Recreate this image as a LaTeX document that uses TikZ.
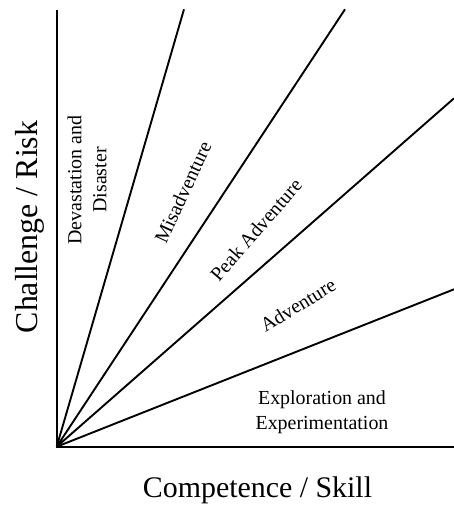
\documentclass[tikz,border=0pt]{standalone}
\usepackage{fontspec}
\setmainfont{Liberation Serif}
\begin{document}
\begin{tikzpicture}[x=1bp,y=-1bp,
  ray/.style={line width=1.9bp},
  axis/.style={line width=2.1bp},
  zone/.style={inner sep=0pt,align=center,font=\fontsize{20}{25}\selectfont},
  axlabel/.style={inner sep=0pt}]
\useasboundingbox (0,0) rectangle (454,508);
\coordinate (O) at (56.7,446.7);
\coordinate (ytop) at (56.7,10);
\coordinate (xend) at (454,446.7);
\coordinate (r1) at (184,9.3);
\coordinate (r2) at (345,9.3);
\coordinate (r3) at (454,98.3);
\coordinate (r4) at (454,289.3);
\draw[axis] (ytop) -- (O) -- (xend);
\draw[ray] (O) -- (r1);
\draw[ray] (O) -- (r2);
\draw[ray] (O) -- (r3);
\draw[ray] (O) -- (r4);
\node[zone,rotate=90] (dev) at (87,180) {Devastation and\\Disaster};
\node[zone,rotate=65.2] (mis) at (183,192) {Misadventure};
\node[zone,rotate=48.9] (peak) at (256,230) {Peak Adventure};
\node[zone,rotate=31.4] (adv) at (298,305) {Adventure};
\node[zone] (exp) at (322,412) {Exploration and\\Experimentation};
\node[axlabel,rotate=90,font=\fontsize{32}{36}\selectfont] (ylab) at (30,227) {Challenge / Risk};
\node[axlabel,font=\fontsize{30}{34}\selectfont] (xlab) at (257.5,490) {Competence / Skill};
\end{tikzpicture}
\end{document}
